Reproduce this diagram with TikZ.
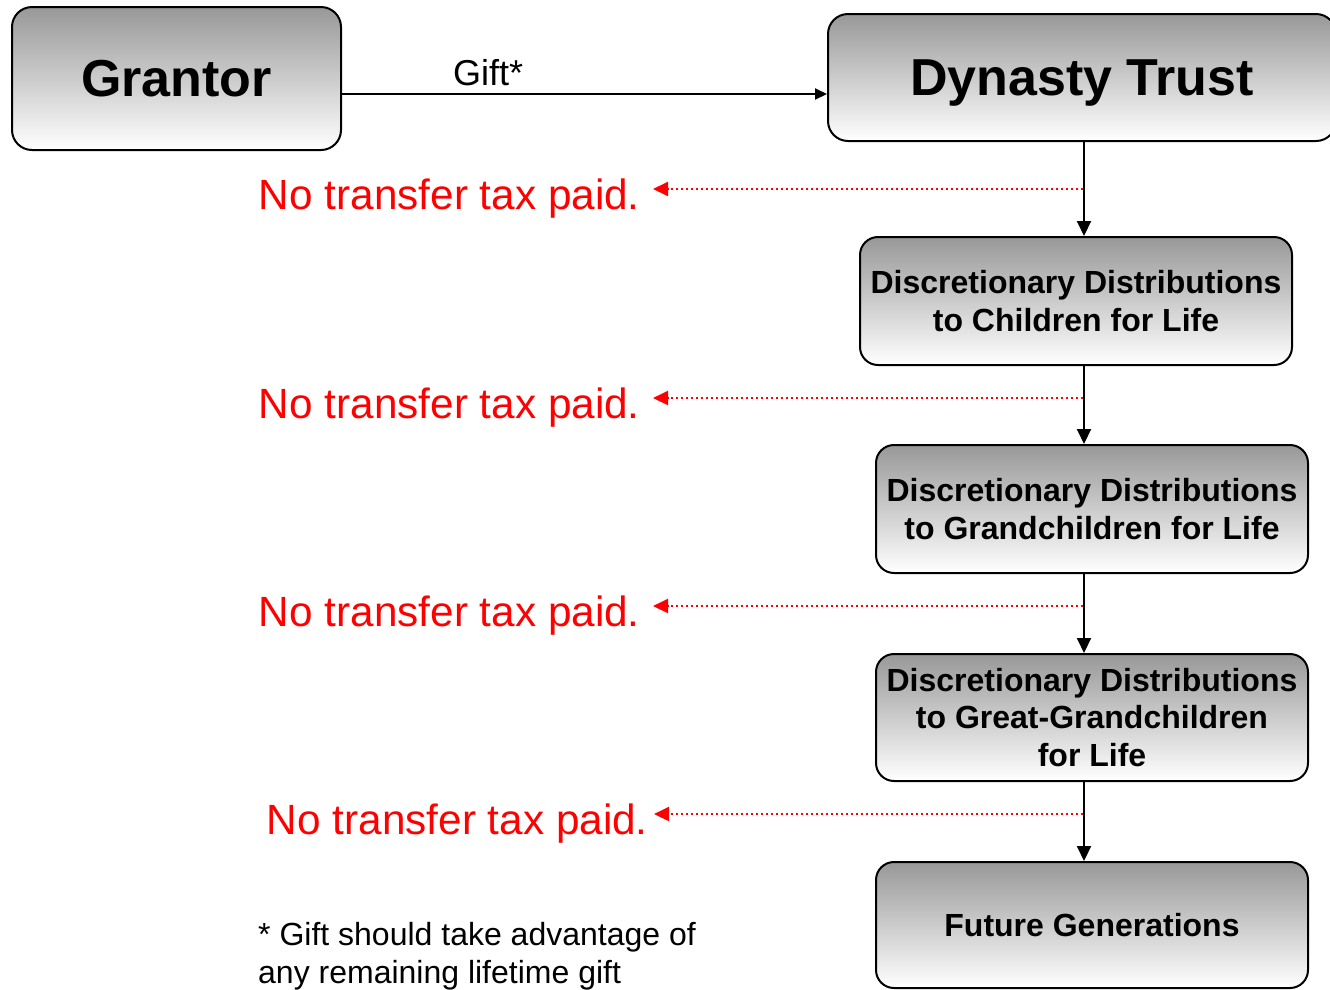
\documentclass[tikz,border=0pt]{standalone}
\usepackage{fontspec}
\setmainfont{Liberation Sans}
\usetikzlibrary{arrows.meta}
\definecolor{boxtop}{RGB}{152,152,152}
\definecolor{boxmid}{RGB}{205,205,205}
\definecolor{taxred}{RGB}{255,0,0}
\begin{document}
\begin{tikzpicture}[x=1pt,y=-1pt,
  box/.style={draw=black, line width=2pt, rounded corners=18pt,
    top color=boxtop, middle color=boxmid, bottom color=white,
    font=\bfseries\fontsize{32}{37.5}\selectfont, align=center, inner sep=0pt},
  bigbox/.style={box, rounded corners=20pt, font=\bfseries\fontsize{52}{60}\selectfont, text depth=0pt},
  arr/.style={line width=2pt, -{Triangle[length=15pt,width=14pt]}},
  giftarr/.style={line width=2pt, -{Triangle[length=12pt,width=11pt]}},
  taxarr/.style={draw=taxred, line width=2pt, dash pattern=on 2pt off 3pt,
    -{Triangle[length=15pt,width=14pt,sep=0pt]}},
  taxtext/.style={text=taxred, font=\fontsize{42.3}{50}\selectfont, inner sep=0pt, anchor=base east},
  note/.style={font=\fontsize{32}{38}\selectfont, inner sep=0pt, anchor=base west, align=left}
]
\useasboundingbox (0,0) rectangle (1330,989);

% boxes
\node[bigbox, minimum width=329pt, minimum height=143pt] (grantor) at (176.5,78.5) {Grantor};
\node[bigbox, minimum width=508pt, minimum height=127pt] (dyn) at (1082,77.5) {Dynasty Trust};
\node[box, minimum width=432pt, minimum height=128pt] (c1) at (1076,301)
  {Discretionary Distributions\\to Children for Life};
\node[box, minimum width=432pt, minimum height=128pt] (c2) at (1092,509)
  {Discretionary Distributions\\to Grandchildren for Life};
\node[box, minimum width=432pt, minimum height=127pt] (c3) at (1092,717.5)
  {Discretionary Distributions\\to Great-Grandchildren\\for Life};
\node[box, minimum width=432pt, minimum height=126pt] (c4) at (1092,925)
  {Future Generations};

% gift arrow
\draw[giftarr] (grantor.east |- 0,94) -- (dyn.west |- 0,94);
\node[font=\fontsize{36}{42}\selectfont, inner sep=0pt, anchor=base west] (gift) at (453,85) {Gift*};

% vertical connectors
\coordinate (vx) at (1084,0);
\draw[arr] (vx |- dyn.south) -- (vx |- c1.north);
\draw[arr] (vx |- c1.south) -- (vx |- c2.north);
\draw[arr] (vx |- c2.south) -- (vx |- c3.north);
\draw[arr] (vx |- c3.south) -- (vx |- c4.north);

% tax texts
\node[taxtext] (t1) at (640,209) {No transfer tax paid.};
\node[taxtext] (t2) at (640,418) {No transfer tax paid.};
\node[taxtext] (t3) at (640,626) {No transfer tax paid.};
\node[taxtext] (t4) at (648,834) {No transfer tax paid.};

\coordinate (s1) at (1083,189); \coordinate (e1) at (653,189);
\coordinate (s2) at (1083,398); \coordinate (e2) at (653,398);
\coordinate (s3) at (1083,606); \coordinate (e3) at (653,606);
\coordinate (s4) at (1083,814); \coordinate (e4) at (654,814);
\draw[taxarr] (s1) -- (e1);
\draw[taxarr] (s2) -- (e2);
\draw[taxarr] (s3) -- (e3);
\draw[taxarr] (s4) -- (e4);

% footnote
\node[note] (fn) at (258,983) {* Gift should take advantage of\\any remaining lifetime gift};
\end{tikzpicture}
\end{document}
